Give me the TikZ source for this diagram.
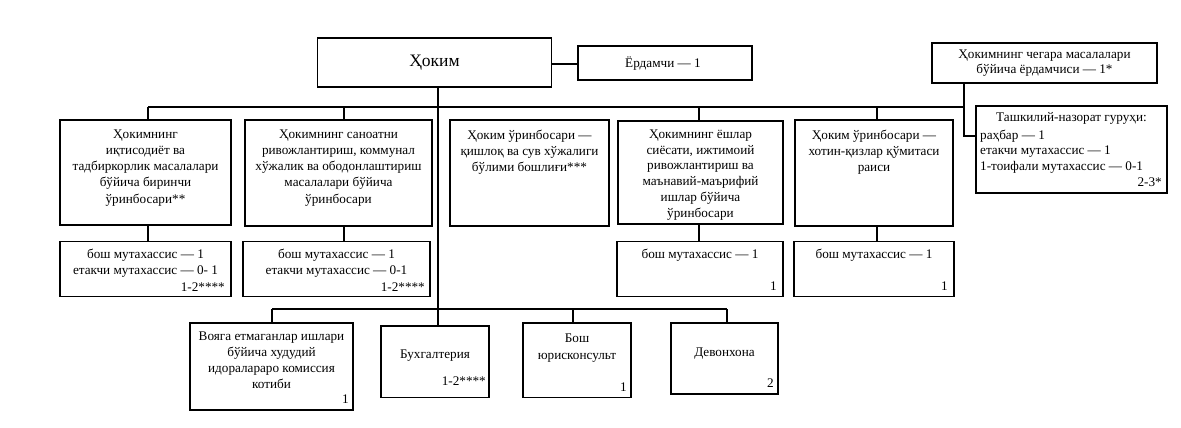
\documentclass[tikz,border=0pt]{standalone}
\usepackage{fontspec}
\setmainfont{Liberation Serif}
\usetikzlibrary{fit}
\begin{document}
\begin{tikzpicture}[x=1pt,y=-1pt,
  box/.style={draw, line width=1.2pt, inner sep=0pt, fit={#1}},
  conn/.style={draw, line width=1.2pt},
  txt/.style={font=\fontsize{13.2}{16.2}\selectfont, align=center, inner sep=0pt},
  num/.style={font=\fontsize{13.2}{16.2}\selectfont, inner sep=0pt, anchor=base east},
  big/.style={font=\fontsize{17.5}{20}\selectfont, inner sep=0pt}]
\useasboundingbox[fill=white] (0,0) rectangle (1181,428);

% top row
\node[box={(317.5,38) (551.6,87)}] (hokim) {};
\node[big] (hokimt) at (434.5,63) {Ҳоким};
\node[box={(578,46) (752,80)}] (yord) {};
\node[txt] (yordt) at (663,64) {Ёрдамчи — 1};
\node[box={(932,43) (1157,83)}] (cheg) {};
\node[txt, font=\fontsize{13.2}{15.2}\selectfont] (chegt) at (1044.5,63.5) {Ҳокимнинг чегара масалалари\\бўйича ёрдамчиси — 1*};
\node[box={(976,106) (1167,193)}] (tash) {};
\node[txt] (tasht) at (1071.5,118) {Ташкилий-назорат гуруҳи:};
\node[txt, align=left, anchor=north west, font=\fontsize{13.2}{15.2}\selectfont] (tashl) at (980,130) {раҳбар — 1\\етакчи мутахассис — 1\\1-тоифали мутахассис — 0-1};
\node[num] (tashn) at (1162,186) {2-3*};

% row 2
\node[box={(60,120) (231,225)}] (b1) {};
\node[txt, anchor=north] (b1t) at (145.5,129.5) {Ҳокимнинг\\иқтисодиёт ва\\тадбиркорлик масалалари\\бўйича биринчи\\ўринбосари**};
\node[box={(245,120) (432,226)}] (b2) {};
\node[txt, anchor=north] (b2t) at (338.5,129.5) {Ҳокимнинг саноатни\\ривожлантириш, коммунал\\хўжалик ва ободонлаштириш\\масалалари бўйича\\ўринбосари};
\node[box={(450,120) (609,226)}] (b3) {};
\node[txt, anchor=north] (b3t) at (529.5,129.5) {Ҳоким ўринбосари —\\қишлоқ ва сув хўжалиги\\бўлими бошлиғи***};
\node[box={(618,121) (783,224)}] (b4) {};
\node[txt, anchor=north, font=\fontsize{13.2}{15.8}\selectfont] (b4t) at (700.5,129.5) {Ҳокимнинг ёшлар\\сиёсати, ижтимоий\\ривожлантириш ва\\маънавий-маърифий\\ишлар бўйича\\ўринбосари};
\node[box={(795,120) (953,226)}] (b5) {};
\node[txt, anchor=north] (b5t) at (874,129.5) {Ҳоким ўринбосари —\\хотин-қизлар қўмитаси\\раиси};

% row 3
\node[box={(60,241.5) (231,296.5)}] (c1) {};
\node[txt, anchor=north] (c1t) at (145.5,248.5) {бош мутахассис — 1\\етакчи мутахассис — 0- 1};
\node[num] (c1n) at (225,291) {1-2****};
\node[box={(243,241.5) (430,296.5)}] (c2) {};
\node[txt, anchor=north] (c2t) at (336.5,248.5) {бош мутахассис — 1\\етакчи мутахассис — 0-1};
\node[num] (c2n) at (425,291) {1-2****};
\node[box={(617,241.5) (783,296.5)}] (c4) {};
\node[txt, anchor=north] (c4t) at (700,248.5) {бош мутахассис — 1};
\node[num] (c4n) at (777,290) {1};
\node[box={(794,241.5) (954,296.5)}] (c5) {};
\node[txt, anchor=north] (c5t) at (874,248.5) {бош мутахассис — 1};
\node[num] (c5n) at (948,290) {1};

% row 4
\node[box={(190,323) (353,410)}] (d1) {};
\node[txt, anchor=north] (d1t) at (271.5,331.5) {Вояга етмаганлар ишлари\\бўйича худудий\\идоралараро комиссия\\котиби};
\node[num] (d1n) at (349,403) {1};
\node[box={(381,326) (489,397.5)}] (d2) {};
\node[txt] (d2t) at (435,356) {Бухгалтерия};
\node[num] (d2n) at (486,385) {1-2****};
\node[box={(523,323) (631,397.5)}] (d3) {};
\node[txt] (d3t) at (577,348) {Бош\\юрисконсульт};
\node[num] (d3n) at (627,391) {1};
\node[box={(671,323) (778,394)}] (d4) {};
\node[txt] (d4t) at (724.5,354) {Девонхона};
\node[num] (d4n) at (774,387) {2};

% connectors
\coordinate (busL) at (148,107);
\coordinate (busR) at (964,107);
\coordinate (elb) at (964,136);
\coordinate (lbL) at (272,309);
\coordinate (lbR) at (727,309);
\coordinate (mv) at (438,87);

\draw[conn] (hokim.east |- yordt) -- (yord.west |- yordt);
\draw[conn] (busL) -- (busR);
\draw[conn] (elb |- cheg.south) -- (elb) -- (tash.west |- elb);
\draw[conn] (mv) -- (mv |- d2.north);
\draw[conn] (lbL) -- (lbR);
\draw[conn] (busL) -- (busL |- b1.north);
\draw[conn] (344,107) -- (344,120);
\draw[conn] (699,107) -- (699,121);
\draw[conn] (877,107) -- (877,120);
\draw[conn] (148,225) -- (148,241.5);
\draw[conn] (344,226) -- (344,241.5);
\draw[conn] (699,224) -- (699,241.5);
\draw[conn] (877,226) -- (877,241.5);
\draw[conn] (lbL) -- (lbL |- d1.north);
\draw[conn] (573,309) -- (573,323);
\draw[conn] (lbR) -- (lbR |- d4.north);
\end{tikzpicture}
\end{document}
